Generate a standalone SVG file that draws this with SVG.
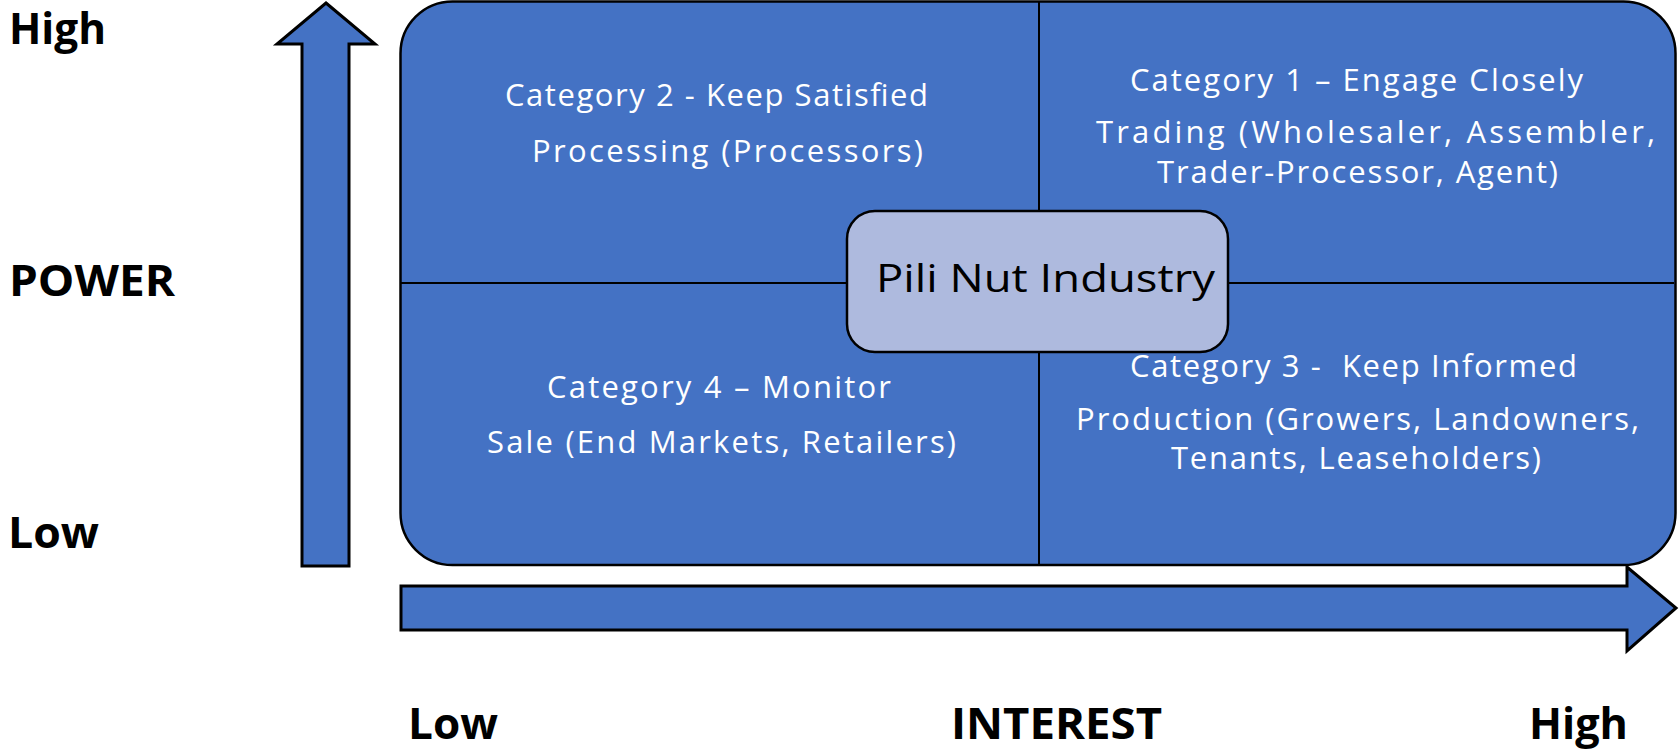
<svg xmlns="http://www.w3.org/2000/svg" width="1680" height="750" viewBox="0 0 1680 750">
  <style>
    .panel { fill: #4472C4; stroke: #000; stroke-width: 2.5; }
    .arrow { fill: #4472C4; stroke: #000; stroke-width: 3; stroke-linejoin: miter; }
    .divider { stroke: #000; stroke-width: 2; fill: none; }
    .hub { fill: #AEBADE; stroke: #000; stroke-width: 2.5; }
    .q { font-family: "Open Sans", "Noto Sans", sans-serif; font-size: 31px; fill: #fff; white-space: pre; }
    .hubtxt { font-family: "Open Sans", "Noto Sans", sans-serif; font-size: 38px; fill: #000; }
    .axis { font-family: "Open Sans", "Noto Sans", sans-serif; font-size: 43px; font-weight: bold; fill: #000; }
  </style>
  <rect width="1680" height="750" fill="#fff"/>

  <!-- axis arrows -->
  <g id="connectors">
    <polygon id="power-arrow" class="arrow" points="326,3 375,44 349,44 349,566 302,566 302,44 277,44"/>
    <polygon id="interest-arrow" class="arrow" points="401,586 1627,586 1627,567 1676,608 1627,651 1627,630 401,630"/>
  </g>

  <!-- quadrant grid -->
  <g id="grid">
    <rect class="panel" x="400.5" y="1.5" width="1275" height="563.5" rx="52" ry="52"/>
    <line class="divider" x1="1039" y1="2" x2="1039" y2="564"/>
    <line class="divider" x1="401" y1="283" x2="1674" y2="283"/>
  </g>

  <g id="q-keep-satisfied">
    <text class="q" x="505" y="105.7" textLength="423" lengthAdjust="spacing">Category 2 - Keep Satisfied</text>
    <text class="q" x="532" y="161.7" textLength="391" lengthAdjust="spacing">Processing (Processors)</text>
  </g>

  <g id="q-engage-closely">
    <text class="q" x="1130" y="90.7" textLength="453" lengthAdjust="spacing">Category 1 – Engage Closely</text>
    <text class="q" x="1096" y="143.3" textLength="559" lengthAdjust="spacing">Trading (Wholesaler, Assembler,</text>
    <text class="q" x="1157" y="183.3" textLength="401" lengthAdjust="spacing">Trader-Processor, Agent)</text>
  </g>

  <g id="q-monitor">
    <text class="q" x="547" y="398.3" textLength="344" lengthAdjust="spacing">Category 4 – Monitor</text>
    <text class="q" x="487" y="453.3" textLength="469" lengthAdjust="spacing">Sale (End Markets, Retailers)</text>
  </g>

  <g id="q-keep-informed">
    <text class="q" x="1130" y="376.7" textLength="447" lengthAdjust="spacing">Category 3 -  Keep Informed</text>
    <text class="q" x="1076" y="430" textLength="563" lengthAdjust="spacing">Production (Growers, Landowners,</text>
    <text class="q" x="1171" y="469" textLength="370" lengthAdjust="spacing">Tenants, Leaseholders)</text>
  </g>

  <g id="hub">
    <rect class="hub" x="847" y="211" width="381" height="141" rx="28" ry="28"/>
    <text class="hubtxt" x="876" y="291.7" textLength="339" lengthAdjust="spacingAndGlyphs">Pili Nut Industry</text>
  </g>

  <!-- axis labels -->
  <g id="power-labels">
    <text class="axis" x="9" y="44" textLength="97" lengthAdjust="spacingAndGlyphs">High</text>
    <text class="axis" x="9" y="296" textLength="166" lengthAdjust="spacingAndGlyphs">POWER</text>
    <text class="axis" x="8" y="548" textLength="91" lengthAdjust="spacingAndGlyphs">Low</text>
  </g>
  <g id="interest-labels">
    <text class="axis" x="408" y="739" textLength="90" lengthAdjust="spacingAndGlyphs">Low</text>
    <text class="axis" x="951" y="739" textLength="211" lengthAdjust="spacingAndGlyphs">INTEREST</text>
    <text class="axis" x="1529" y="739" textLength="99" lengthAdjust="spacingAndGlyphs">High</text>
  </g>
</svg>
